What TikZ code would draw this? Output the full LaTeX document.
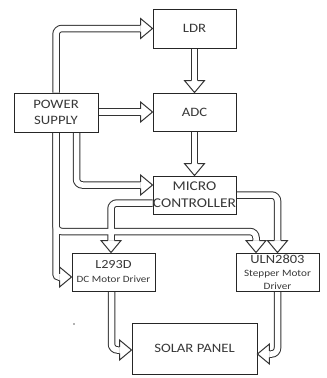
\documentclass[tikz,border=0pt]{standalone}
\usepackage{fontspec}
\setmainfont{Carlito}[FakeStretch=1.15]
\usetikzlibrary{calc}
\pgfdeclarelayer{back}
\pgfdeclarelayer{bg}
\pgfsetlayers{back,bg,main}
\newcommand{\bhead}[2]{\filldraw[headst, shift={#1}, rotate=#2] (-12,3.25) -- (-12,10) -- (0,0) -- (-12,-10) -- (-12,-3.25);}
\newcommand{\pipes}[1]{%
 \draw[#1] (ps.north) |- ($(ldr.west)+(-12,0)$);
 \draw[#1] (ps.east |- adc.west) -- ($(adc.west)+(-12,0)$);
 \draw[#1] ($(ps.south)+(20.5,0)$) |- ($(mc.west)+(-12,-10)$);
 \draw[#1, rounded corners=3pt] (ps.south) |- ($(l293.west)+(-12,5)$);
 \draw[#1] (ps.south) |- ($(uln.north)+(-21.5,-21)$) -- ($(uln.north)+(-21.5,-12)$);
 \draw[#1] ($(mc.west)+(0,8)$) -| ($(l293.north)+(-2.5,-12)$);
 \draw[#1] (mc.east) -| ($(uln.north)+(0,-12)$);
 \draw[#1] ($(l293.south)+(-2,0)$) |- ($(sp.west)+(-12,1.5)$);
 \draw[#1] (uln.south) |- ($(sp.east)+(12,5.5)$);
 \draw[#1] (ldr.south) -- ($(adc.north)+(0,-12)$);
 \draw[#1] (adc.south) -- ($(mc.north)+(0,-12)$);
}
\begin{document}
\begin{tikzpicture}[x=1pt,y=-1pt,
 box/.style={draw=black!85, line width=0.9pt, fill=white, text=black!78, align=center, inner sep=0pt, font=\fontsize{12.8}{16}\selectfont},
 pipeout/.style={draw=black!80, line width=7.5pt, rounded corners=6pt},
 pipein/.style={draw=white, line width=5.5pt, rounded corners=6pt},
 headst/.style={draw=black!80, fill=white, line width=1pt, line join=miter}]
\begin{pgfonlayer}{back}
\fill[white] (0,0) rectangle (327,378);
\end{pgfonlayer}
\useasboundingbox (0,0) rectangle (327,378);
\node[box, minimum width=83pt, minimum height=39pt] (ldr) at (194.5,28.5) {LDR};
\node[box, minimum width=83pt, minimum height=38pt] (adc) at (194.5,112) {ADC};
\node[box, minimum width=84pt, minimum height=39pt] (ps) at (56,112.5) {POWER\\SUPPLY};
\node[box, minimum width=83pt, minimum height=38pt, font=\fontsize{13.4}{17}\selectfont] (mc) at (194.5,195) {MICRO\\CONTROLLER};
\node[box, minimum width=83pt, minimum height=38pt, font=\fontsize{12.4}{14}\selectfont] (l293) at (113.5,272) {L293D\\{\fontsize{9.6}{14}\selectfont DC Motor Driver}};
\node[box, minimum width=83pt, minimum height=38pt, font=\fontsize{12.6}{13}\selectfont] (uln) at (277.5,272) {ULN2803\\{\fontsize{9.7}{12}\selectfont Stepper Motor}\\{\fontsize{9.7}{12}\selectfont Driver}};
\node[box, minimum width=125pt, minimum height=51pt] (sp) at (194.5,348.5) {SOLAR PANEL};
\begin{pgfonlayer}{bg}
\pipes{pipeout}
\pipes{pipein}
\end{pgfonlayer}
\bhead{(ldr.west)}{0}
\bhead{(adc.west)}{0}
\bhead{($(mc.west)+(0,-10)$)}{0}
\bhead{($(l293.west)+(0,5)$)}{0}
\bhead{($(uln.north)+(-21.5,0)$)}{-90}
\bhead{($(l293.north)+(-2.5,0)$)}{-90}
\bhead{(uln.north)}{-90}
\bhead{($(sp.west)+(0,1.5)$)}{0}
\bhead{($(sp.east)+(0,5.5)$)}{180}
\bhead{(adc.north)}{-90}
\bhead{(mc.north)}{-90}
\fill[black!60] (74,324) circle (0.8);
\end{tikzpicture}
\end{document}
